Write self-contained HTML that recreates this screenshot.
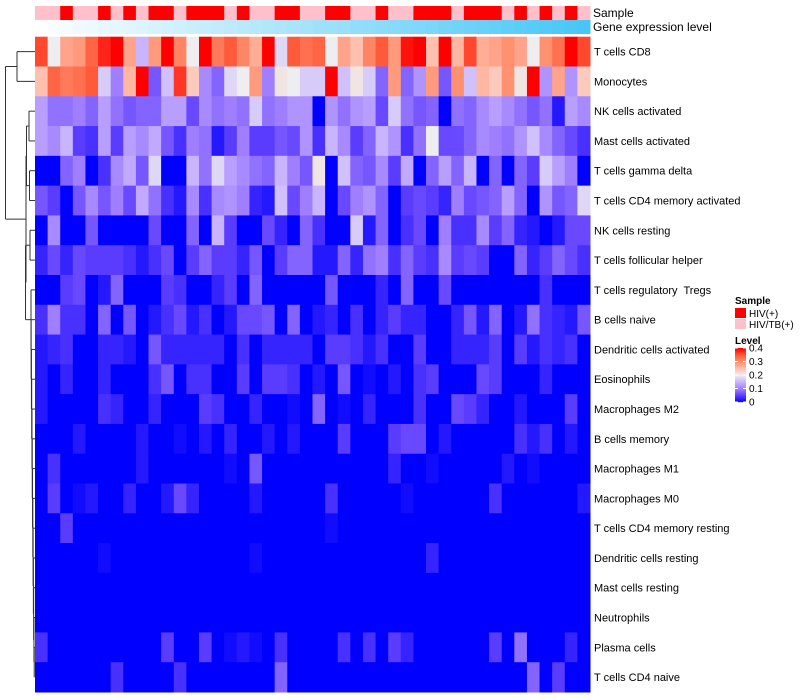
<!DOCTYPE html>
<html><head><meta charset="utf-8"><style>
body{margin:0;background:#fff;}
svg{display:block;font-family:"Liberation Sans",sans-serif;}
#rowlabels text{white-space:pre;}
</style></head><body>
<svg id="chart" width="800" height="700" xmlns="http://www.w3.org/2000/svg">
<g id="dendro" fill="none" stroke="#333" stroke-width="1"></g>
<g id="annot"></g>
<g id="cells"></g>
<g id="rowlabels" font-size="11" fill="#000"></g>
<text x="593" y="17" font-size="12">Sample</text>
<text x="593" y="31" font-size="12">Gene expression level</text>
<g id="legend"></g>
</svg>
<script>
const rowNames=["T cells CD8","Monocytes","NK cells activated","Mast cells activated","T cells gamma delta","T cells CD4 memory activated","NK cells resting","T cells follicular helper","T cells regulatory  Tregs","B cells naive","Dendritic cells activated","Eosinophils","Macrophages M2","B cells memory","Macrophages M1","Macrophages M0","T cells CD4 memory resting","Dendritic cells resting","Mast cells resting","Neutrophils","Plasma cells","T cells CD4 naive"];
// 1 = HIV(+), 0 = HIV/TB(+)
const sampleGroup=[0,0,1,0,0,1,0,1,0,1,1,0,1,1,1,0,1,0,0,1,1,0,0,1,1,0,0,1,0,0,1,1,1,0,1,1,1,0,1,0,1,0,1,0];
const levelTicks=[0,0.1,0.2,0.3,0.4];
const rCD8=[0.36,0.2,0.28,0.29,0.34,0.38,0.4,0.28,0.15,0.29,0.4,0.31,0.2,0.4,0.32,0.35,0.31,0.27,0.4,0.18,0.35,0.33,0.34,0.2,0.28,0.25,0.31,0.35,0.29,0.39,0.4,0.25,0.4,0.26,0.36,0.27,0.28,0.3,0.28,0.2,0.3,0.33,0.4,0.36];
const rMono=[0.25,0.34,0.32,0.33,0.35,0.17,0.1,0.26,0.4,0.07,0.16,0.37,0.24,0.11,0.08,0.18,0.2,0.29,0.1,0.21,0.2,0.17,0.17,0.4,0.16,0.21,0.17,0.08,0.29,0.08,0.12,0.29,0.07,0.3,0.16,0.26,0.24,0.3,0.21,0.4,0.12,0.28,0.12,0.24];
const rNKact=[0.13,0.09,0.09,0.1,0.08,0.13,0.09,0.07,0.08,0.08,0.13,0.13,0.06,0.11,0.09,0.1,0.09,0.17,0.09,0.1,0.12,0.12,0,0.12,0.09,0.12,0.13,0.06,0.17,0.09,0.07,0.08,0,0.09,0.08,0.11,0.13,0.11,0.09,0.07,0.09,0.02,0.13,0.11];
const rMastAct=[0.13,0.11,0.15,0.05,0.04,0.13,0.05,0.13,0.11,0.14,0.07,0.04,0.1,0.09,0.02,0.05,0.1,0.05,0.05,0.07,0.06,0.12,0.04,0.15,0.11,0.05,0.08,0.15,0.12,0.04,0.09,0.2,0.06,0.06,0.08,0.11,0.1,0.09,0.12,0.16,0.11,0.08,0.06,0.04];
const rGD=[0,0,0.08,0.1,0,0.04,0.11,0.14,0.07,0.18,0,0,0.15,0.09,0.18,0.13,0.11,0.09,0.08,0.15,0.1,0.07,0.21,0,0.16,0.08,0.07,0.11,0.05,0.14,0,0.08,0.13,0.08,0.15,0,0.08,0,0.08,0.05,0.17,0.13,0.1,0];
const rCD4MA=[0.07,0.05,0,0.07,0.11,0.07,0.1,0.06,0.14,0.09,0.04,0.02,0.11,0.04,0.11,0.12,0.1,0.03,0.02,0.16,0.06,0.1,0.15,0,0.06,0.1,0.12,0.08,0,0.05,0.06,0.05,0.03,0.1,0.06,0.07,0.08,0.13,0.08,0,0.12,0.07,0.08,0.18];
const rNKrest=[0,0.11,0,0,0.07,0,0,0,0,0.06,0,0,0.08,0,0.15,0.05,0,0,0.06,0.03,0,0.08,0.04,0,0,0.17,0.02,0.08,0,0.04,0.06,0,0.1,0.04,0.04,0.11,0.05,0.08,0.03,0.02,0,0.02,0.06,0.06];
const rTfh=[0.03,0.06,0.03,0.06,0.05,0.05,0.05,0.04,0.02,0.04,0.06,0,0.05,0.08,0.05,0.05,0.03,0.07,0,0.05,0.08,0.08,0.02,0.02,0.08,0.03,0.09,0.1,0.04,0.08,0.05,0.04,0.11,0.05,0.06,0.05,0,0,0.08,0.03,0.05,0.08,0.06,0.04];
const rTreg=[0,0,0.05,0.06,0,0.02,0.08,0,0,0,0.05,0.04,0,0,0.03,0.05,0,0.08,0,0,0,0,0,0.07,0,0,0,0.03,0,0.08,0,0,0.06,0,0,0,0,0,0,0,0.04,0,0,0];
const rBnaive=[0.04,0.1,0.04,0.04,0,0.08,0,0.07,0,0.02,0.04,0.06,0.02,0.04,0,0.02,0.06,0.06,0.07,0,0.08,0,0.02,0.03,0,0.04,0,0.03,0.05,0.03,0.03,0,0,0.03,0.07,0.02,0.08,0,0.02,0.09,0.04,0.03,0.02,0.07];
const rDCact=[0.02,0.03,0.04,0,0,0.03,0.03,0.02,0,0.07,0.03,0.03,0.03,0.03,0.03,0,0.04,0,0.03,0.03,0.03,0.03,0,0.05,0.05,0.04,0.02,0.04,0,0,0.05,0,0,0.03,0.03,0.03,0.05,0,0.05,0.02,0.04,0.03,0.04,0];
const rEos=[0.02,0,0.03,0,0,0.03,0,0,0,0.04,0.07,0,0.04,0.04,0,0,0.05,0,0.05,0.05,0.04,0,0.02,0,0.07,0,0.01,0,0.02,0,0.04,0.05,0,0,0,0.06,0.05,0,0,0,0.03,0,0,0];
const rM2=[0.02,0,0,0,0,0.04,0.03,0,0,0.03,0,0,0,0.05,0.04,0,0,0.03,0,0,0.01,0,0.08,0,0.01,0,0.03,0,0,0,0.04,0,0,0.06,0.05,0.03,0,0,0.02,0,0,0,0.05,0];
const rBmem=[0,0,0,0.02,0,0,0,0,0.02,0,0,0.01,0,0.02,0,0.03,0,0,0.02,0,0.02,0,0,0,0.05,0,0,0,0.05,0.06,0.06,0,0.02,0,0,0,0,0,0.04,0.02,0.04,0,0.02,0];
const rM1=[0,0.04,0,0,0,0,0,0,0.02,0,0,0,0,0,0,0.01,0,0.07,0,0,0,0,0,0,0,0,0,0,0.03,0,0,0.01,0,0,0,0,0,0.02,0,0.01,0,0,0,0];
const rM0=[0,0.05,0,0.01,0.02,0,0,0.03,0,0,0.02,0.06,0.03,0,0,0,0,0.02,0,0,0,0,0,0.04,0,0,0,0,0,0.01,0,0,0,0,0,0,0.04,0,0,0,0,0,0,0.02];
const rCD4MR=[0,0,0.05,0,0,0,0,0,0,0,0,0,0,0,0,0,0,0,0,0,0,0,0,0.01,0,0,0,0,0,0,0,0,0,0,0,0,0,0,0,0,0,0,0,0];
const rDCrest=[0,0,0,0,0,0.01,0,0,0,0,0,0,0,0,0,0,0,0.01,0,0,0,0,0,0,0,0,0,0,0,0,0,0.03,0,0,0,0,0,0,0,0,0,0,0,0];
const rMastRest=[0,0,0,0,0,0,0,0,0,0,0,0,0,0,0,0,0,0,0,0,0,0,0,0,0,0,0,0,0,0,0,0,0,0,0,0,0,0,0,0,0,0,0,0];
const rNeut=[0,0,0,0,0,0,0,0,0,0,0,0,0,0,0,0,0,0,0,0,0,0,0,0,0,0,0,0,0,0,0,0,0,0,0,0,0,0,0,0,0,0,0,0];
const rPlasma=[0.04,0,0,0,0,0,0,0,0,0,0.05,0,0,0.05,0,0.01,0.02,0.01,0,0.04,0,0,0,0,0.04,0,0.04,0,0.05,0.03,0,0,0,0,0,0,0.05,0,0.09,0,0,0,0.03,0];
const rCD4naive=[0,0,0,0,0,0,0.04,0,0,0,0,0.04,0,0,0,0,0,0,0,0.08,0,0,0,0,0,0,0,0,0,0,0,0,0,0,0,0,0,0,0,0.08,0,0.05,0,0];
const matrix=[rCD8,rMono,rNKact,rMastAct,rGD,rCD4MA,rNKrest,rTfh,rTreg,rBnaive,rDCact,rEos,rM2,rBmem,rM1,rM0,rCD4MR,rDCrest,rMastRest,rNeut,rPlasma,rCD4naive];

const NS="http://www.w3.org/2000/svg";
const X0=35,X1=590,Y0=36.7,Y1=692;
const nC=sampleGroup.length,nR=rowNames.length;
const cw=(X1-X0)/nC,rh=(Y1-Y0)/nR;
const xPos=c=>X0+c*cw, yPos=r=>Y0+r*rh;
const stops=[[0,[0,0,255]],[0.05,[90,60,255]],[0.1,[159,127,255]],[0.15,[200,180,255]],[0.2,[238,238,240]],[0.25,[255,192,176]],[0.3,[255,144,112]],[0.35,[255,90,58]],[0.4,[255,0,0]]];
function color(v){v=Math.max(0,Math.min(0.4,v));for(let i=1;i<stops.length;i++){if(v<=stops[i][0]){const a=stops[i-1],b=stops[i],f=(v-a[0])/(b[0]-a[0]);const c=a[1].map((x,k)=>Math.round(x+(b[1][k]-x)*f));return "rgb("+c.join(",")+")";}}return "rgb(255,0,0)";}
function mk(tag,attrs,parent){const e=document.createElementNS(NS,tag);for(const k in attrs)e.setAttribute(k,attrs[k]);parent.appendChild(e);return e;}
const cellsG=document.getElementById('cells');
matrix.forEach((row,r)=>row.forEach((v,c)=>{
 const e=mk('rect',{x:xPos(c),y:yPos(r),width:cw+0.5,height:rh+0.5,fill:color(v)},cellsG);
 
 
}));
const annotG=document.getElementById('annot');
sampleGroup.forEach((g,c)=>{
 const e=mk('rect',{x:xPos(c),y:6,width:cw+0.5,height:14,fill:g?'#ff0000':'#ffc0cb'},annotG);
 
 
 const f=c/(nC-1);
 const col=[Math.round(253+(72-253)*f),Math.round(254+(198-254)*f),Math.round(255+(246-255)*f)];
 const e2=mk('rect',{x:xPos(c),y:20,width:cw+0.5,height:14,fill:"rgb("+col.join(",")+")"},annotG);
 
 
});
const rlG=document.getElementById('rowlabels');
rowNames.forEach((n,r)=>{
 const e=mk('text',{x:594,y:yPos(r)+rh/2+4},rlG);e.textContent=n;
 
 
});
// dendrogram
const dg=document.getElementById('dendro');
const cy=r=>yPos(r)+rh/2;
function seg(x1,y1,x2,y2){mk('line',{x1:x1,y1:y1,x2:x2,y2:y2},dg);}
function node(x,ya,xa,yb,xb){seg(x,ya,x,yb);seg(x,ya,xa,ya);seg(x,yb,xb,yb);return (ya+yb)/2;}
const topNode=node(17,cy(0),35,cy(1),35);
const a1=node(29,cy(2),35,cy(3),35);
const a2=node(29.5,cy(4),35,cy(5),35);
const nodeA=node(26.5,a1,29,a2,29.5);
const b1=node(30,cy(6),35,cy(7),35);
let cyC=cy(21),cxC=34.5;
for(let r=20;r>=8;r--){const nx=Math.max(31,34.5-(21-r)*0.28);cyC=node(nx,cy(r),35,cyC,cxC);cxC=nx;}
const nodeB=node(25.5,b1,30,cyC,cxC);
const nodeR=node(26,nodeA,26.5,nodeB,25.5);
node(5.5,topNode,17,nodeR,26);
// legend
const lg=document.getElementById('legend');
let lt=mk('text',{x:735,y:304,'font-size':10,'font-weight':'bold'},lg);lt.textContent='Sample';
mk('rect',{x:735,y:308,width:11,height:10,fill:'#ff0000'},lg);
lt=mk('text',{x:749,y:317,'font-size':10},lg);lt.textContent='HIV(+)';
mk('rect',{x:735,y:319,width:11,height:10,fill:'#ffc0cb'},lg);
lt=mk('text',{x:749,y:328,'font-size':10},lg);lt.textContent='HIV/TB(+)';
lt=mk('text',{x:735,y:344,'font-size':10,'font-weight':'bold'},lg);lt.textContent='Level';
const gy0=402,gy1=348;
const ly=v=>gy0-(v/0.4)*(gy0-gy1);
for(let i=0;i<54;i++){mk('rect',{x:735,y:gy1+i,width:11,height:1.2,fill:color(0.4*(1-i/54))},lg);}
levelTicks.forEach(v=>{
 mk('line',{x1:735,x2:738,y1:ly(v),y2:ly(v),stroke:'#fff'},lg);
 mk('line',{x1:743,x2:746,y1:ly(v),y2:ly(v),stroke:'#fff'},lg);
 const e=mk('text',{x:749,y:ly(v)+3.5,'font-size':10},lg);e.textContent=String(v);
 
 
});
</script>
</body></html>
